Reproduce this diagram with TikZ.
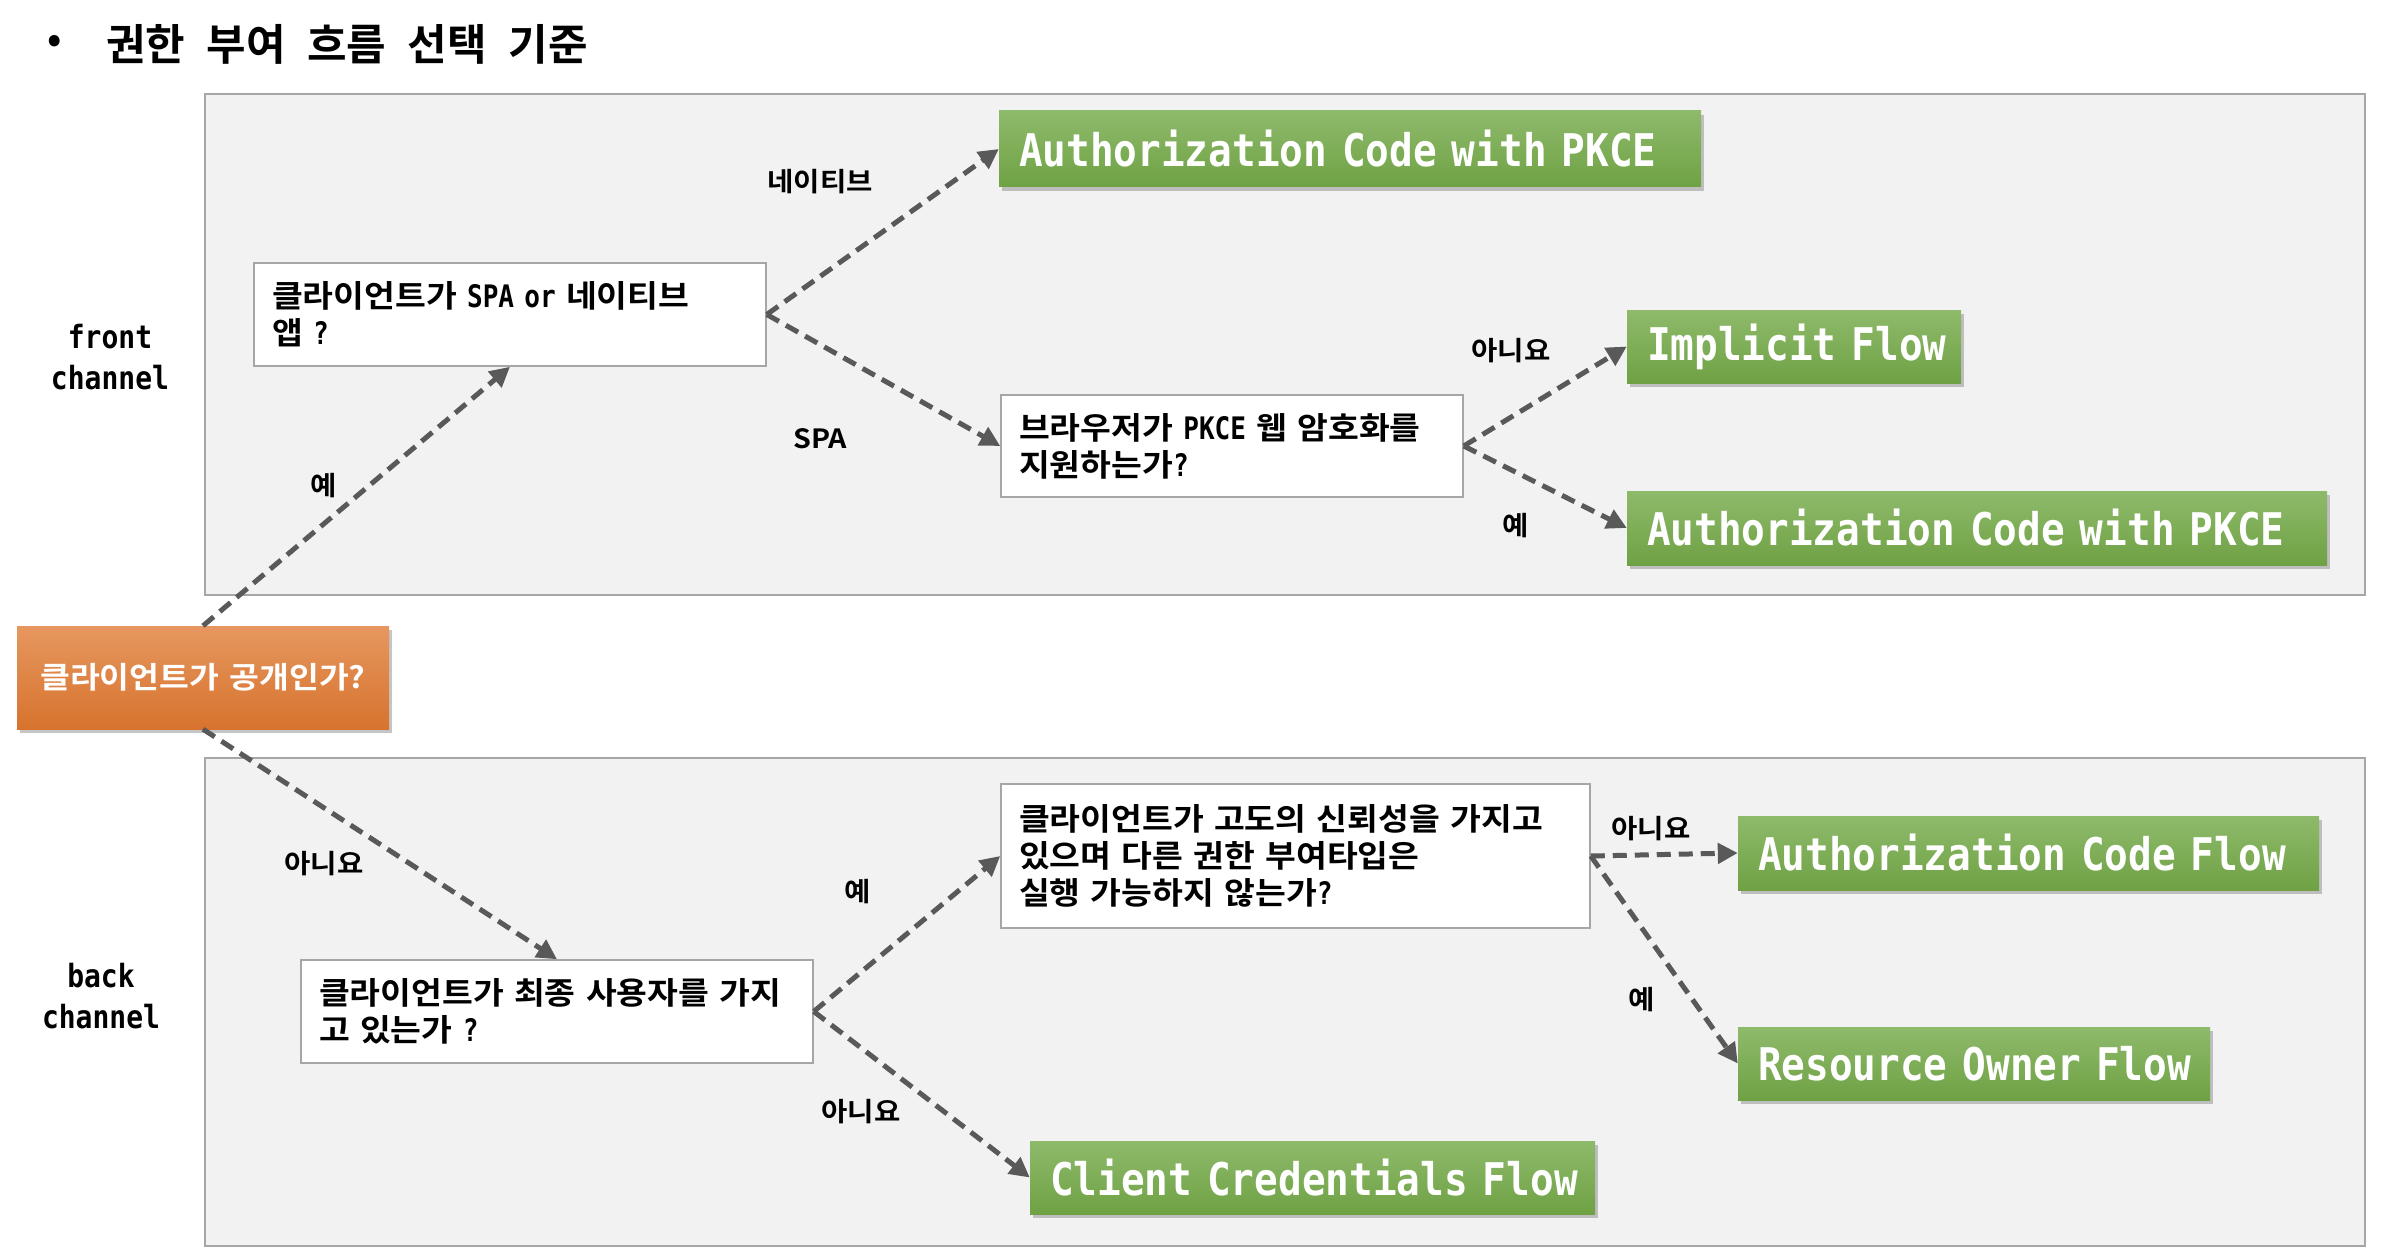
\documentclass[tikz,border=0pt]{standalone}
\usepackage{fontspec}
\usetikzlibrary{arrows.meta,shadows}
\newfontfamily\kr{Noto Sans CJK KR}[BoldFont={Noto Sans CJK KR Bold},WordSpace=2.6,FakeStretch=1.08]
\newfontfamily\krt{Noto Sans CJK KR}[BoldFont={Noto Sans CJK KR Bold},WordSpace=2.2]
\newfontfamily\ma{DejaVu Sans Mono}[FakeStretch=0.84]
\newfontfamily\mg{DejaVu Sans Mono}[FakeStretch=0.875]
\newcommand\lat[1]{{\ma\fontsize{31}{37}\selectfont#1}}
\definecolor{panelfill}{HTML}{F2F2F2}
\definecolor{panelline}{HTML}{A6A6A6}
\definecolor{arrowgray}{HTML}{595959}
\definecolor{greentop}{HTML}{8EBA6B}
\definecolor{greenbot}{HTML}{6FA144}
\definecolor{orangetop}{HTML}{E6975F}
\definecolor{orangebot}{HTML}{D7732E}
\begin{document}
\begin{tikzpicture}[x=1pt,y=-1pt,
  panel/.style={draw=panelline,fill=panelfill,line width=1.5pt},
  qbox/.style={draw=panelline,fill=white,line width=1.5pt,inner xsep=18pt,inner ysep=0pt,
    align=left,font=\kr\bfseries\fontsize{31}{37}\selectfont},
  result/.style={top color=greentop,bottom color=greenbot,draw=none,inner xsep=20pt,inner ysep=0pt,
    align=left,text=white,font=\mg\bfseries\fontsize{45}{50}\selectfont,
    drop shadow={opacity=0.45,shadow xshift=3pt,shadow yshift=-4pt}},
  start/.style={top color=orangetop,bottom color=orangebot,draw=none,text=white,
    font=\kr\bfseries\fontsize{30}{36}\selectfont,
    drop shadow={opacity=0.45,shadow xshift=3pt,shadow yshift=-4pt}},
  lbl/.style={font=\kr\bfseries\fontsize{26.5}{30}\selectfont,inner sep=0pt},
  chan/.style={font=\mg\bfseries\fontsize{32}{41}\selectfont,align=center,inner sep=0pt},
  arr/.style={draw=arrowgray,line width=5pt,dash pattern=on 14pt off 8pt,
    -{Triangle[length=20pt,width=20pt]}}]
\fill[white] (0,0) rectangle (2382,1260);
\useasboundingbox (0,0) rectangle (2382,1260);
% title
\node[font=\krt\bfseries\fontsize{38}{44}\selectfont,inner sep=0pt] (bullet) at (55,44) {•};
\node[anchor=west,font=\krt\bfseries\fontsize{43}{48}\selectfont,inner sep=0pt] (title) at (106,44) {권한 부여 흐름 선택 기준};
% panels
\draw[panel] (205,94) rectangle (2365,595);
\draw[panel] (205,758) rectangle (2365,1246);
\node[chan] (front) at (110,357) {front\\channel};
\node[chan] (back) at (101,996) {back\\channel};
% start node
\node[start,minimum width=372pt,minimum height=103pt] (start) at (203,677.5) {클라이언트가\hspace{0.35em}공개인가?};
% question boxes
\node[qbox,minimum width=512pt,text width=476pt,minimum height=103pt] (b1) at (510,314.5)
  {클라이언트가\lat{\ SPA or }네이티브\\앱\lat{\ ?}};
\node[qbox,minimum width=462pt,text width=426pt,minimum height=102pt] (b2) at (1232,446)
  {브라우저가\lat{\ PKCE }웹 암호화를\\지원하는가\lat{?}};
\node[qbox,minimum width=589pt,text width=553pt,minimum height=144pt] (b3) at (1295.5,856)
  {클라이언트가 고도의 신뢰성을 가지고\\있으며 다른 권한 부여타입은\\실행 가능하지 않는가\lat{?}};
\node[qbox,minimum width=512pt,text width=476pt,minimum height=103pt] (b4) at (557,1011.5)
  {클라이언트가 최종 사용자를 가지\\고 있는가\lat{\ ?}};
% results
\node[result,minimum width=702pt,text width=662pt,minimum height=76pt] (g1) at (1350,149) {\mbox{Authorization Code with PKCE}};
\node[result,minimum width=334pt,text width=294pt,minimum height=73pt] (g2) at (1794,346.5) {\mbox{Implicit Flow}};
\node[result,minimum width=700pt,text width=660pt,minimum height=74pt] (g3) at (1977,528) {\mbox{Authorization Code with PKCE}};
\node[result,minimum width=581pt,text width=541pt,minimum height=74pt] (g4) at (2028.5,853) {\mbox{Authorization Code Flow}};
\node[result,minimum width=472pt,text width=432pt,minimum height=73pt] (g5) at (1974,1063.5) {\mbox{Resource Owner Flow}};
\node[result,minimum width=565pt,text width=525pt,minimum height=73pt] (g6) at (1312.5,1177.5) {\mbox{Client Credentials Flow}};
% arrows
\draw[arr] (start.north) -- (b1.south);
\draw[arr] (b1.east) -- (g1.west);
\draw[arr] (b1.east) -- (b2.west);
\draw[arr] (b2.east) -- (g2.west);
\draw[arr] (b2.east) -- (g3.west);
\draw[arr] (start.south) -- (b4.north);
\draw[arr] (b4.east) -- (b3.west);
\draw[arr] (b4.east) -- (g6.west);
\draw[arr] (b3.east) -- (g4.west);
\draw[arr] (b3.east) -- (g5.west);
% labels
\node[lbl] (l1) at (820,182) {네이티브};
\node[lbl] (l2) at (820,439) {SPA};
\node[lbl] (l3) at (324,486) {예};
\node[lbl] (l4) at (1511,351) {아니요};
\node[lbl] (l5) at (1516,526) {예};
\node[lbl] (l6) at (324,864) {아니요};
\node[lbl] (l7) at (858,892) {예};
\node[lbl] (l8) at (861,1112) {아니요};
\node[lbl] (l9) at (1651,829) {아니요};
\node[lbl] (l10) at (1642,1000) {예};
\end{tikzpicture}
\end{document}
